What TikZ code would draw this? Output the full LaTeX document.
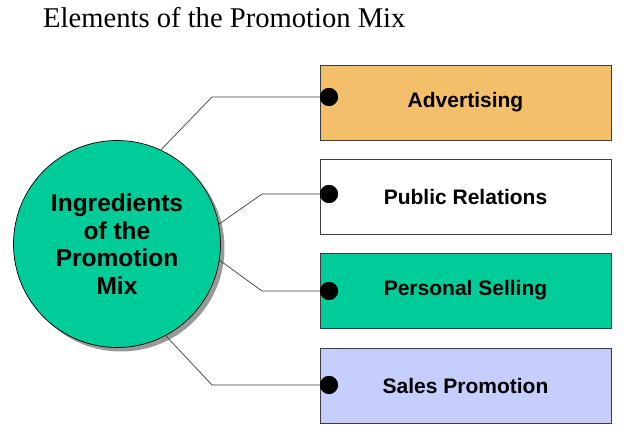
\documentclass[tikz,border=0pt]{standalone}
\usepackage{fontspec}
\setmainfont{Liberation Serif}
\newfontfamily\arialf{Liberation Sans}
\usetikzlibrary{shadows}
\definecolor{advorange}{RGB}{244,191,106}
\definecolor{mixgreen}{RGB}{0,204,153}
\definecolor{salesblue}{RGB}{197,206,252}
\definecolor{linegray}{RGB}{60,60,60}
\tikzset{
  itembox/.style={draw=linegray, line width=0.7pt, minimum width=291pt, minimum height=75pt, inner sep=0pt,
    font=\arialf\bfseries\fontsize{21}{24}\selectfont},
  dotnode/.style={circle, fill=black, minimum size=18pt, inner sep=0pt},
  conn/.style={draw=linegray, line width=0.7pt},
}
\begin{document}
\begin{tikzpicture}[x=1pt,y=-1pt]
\useasboundingbox (0,0) rectangle (637,436);
\node[anchor=base west, inner sep=0pt, font=\fontsize{28.6}{32}\selectfont] (title) at (43,28) {Elements of the Promotion Mix};
\node[circle, draw=black, line width=0.7pt, fill=mixgreen, minimum size=207pt, inner sep=0pt,
  drop shadow={shadow xshift=4pt, shadow yshift=-4pt, fill=gray!80, opacity=1},
  align=center, font=\arialf\bfseries\fontsize{24.5}{27.5}\selectfont] (ing) at (117,244) {Ingredients\\of the\\Promotion\\Mix};
\node[itembox, fill=advorange] (adv) at (465.5,102.5) {Advertising};
\node[itembox, fill=white] (pr) at (465.5,196.5) {Public Relations};
\node[itembox, fill=mixgreen] (ps) at (465.5,290.5) {Personal Selling};
\node[itembox, fill=salesblue] (sp) at (465.5,385.5) {Sales Promotion};
\node[dotnode] (d1) at (329,97) {};
\node[dotnode] (d2) at (329,194) {};
\node[dotnode] (d3) at (329,291) {};
\node[dotnode] (d4) at (329,385) {};
\coordinate (e1) at (212,97);
\coordinate (e2) at (262,194);
\coordinate (e3) at (262,291);
\coordinate (e4) at (212,385);
\draw[conn] (ing.65.6) -- (e1) -- (d1.center);
\draw[conn] (ing.11.7) -- (e2) -- (d2.center);
\draw[conn] (ing.-9.6) -- (e3) -- (d3.center);
\draw[conn] (ing.-62.5) -- (e4) -- (d4.center);
\node[dotnode] at (d1) {};
\node[dotnode] at (d2) {};
\node[dotnode] at (d3) {};
\node[dotnode] at (d4) {};
\end{tikzpicture}
\end{document}
